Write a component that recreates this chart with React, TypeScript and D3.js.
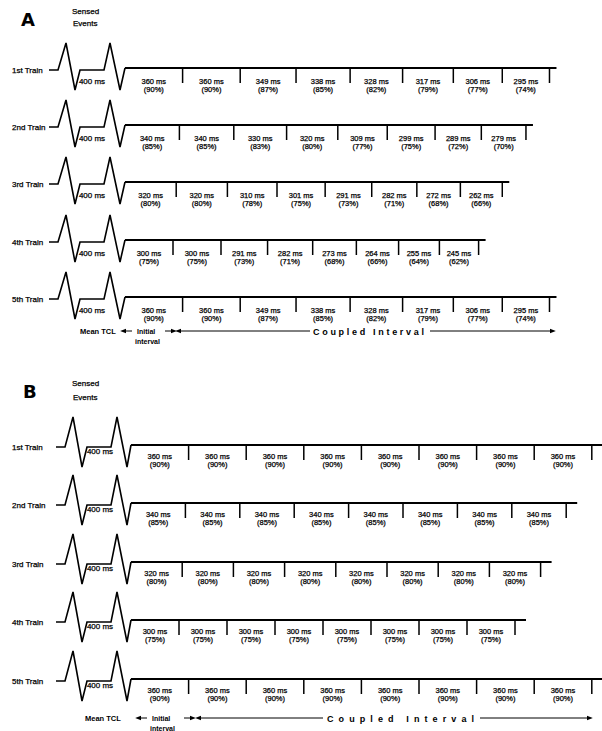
import React from 'react';
import * as d3 from 'd3';

// train names and the mean tachycardia cycle length
const trainLabels = ['1st Train', '2nd Train', '3rd Train', '4th Train', '5th Train'];
const meanTCL = 400;

// panel A: decremental coupled intervals (ms) and % of TCL
const intervalsA = [
  [360, 360, 349, 338, 328, 317, 306, 295],
  [340, 340, 330, 320, 309, 299, 289, 279],
  [320, 320, 310, 301, 291, 282, 272, 262],
  [300, 300, 291, 282, 273, 264, 255, 245],
  [360, 360, 349, 338, 328, 317, 306, 295],
];
const percentsA = [
  [90, 90, 87, 85, 82, 79, 77, 74],
  [85, 85, 83, 80, 77, 75, 72, 70],
  [80, 80, 78, 75, 73, 71, 68, 66],
  [75, 75, 73, 71, 68, 66, 64, 62],
  [90, 90, 87, 85, 82, 79, 77, 74],
];

// panel B: fixed coupled intervals
const intervalsB = [
  [360, 360, 360, 360, 360, 360, 360, 360],
  [340, 340, 340, 340, 340, 340, 340, 340],
  [320, 320, 320, 320, 320, 320, 320, 320],
  [300, 300, 300, 300, 300, 300, 300, 300],
  [360, 360, 360, 360, 360, 360, 360, 360],
];
const percentsB = [
  [90, 90, 90, 90, 90, 90, 90, 90],
  [85, 85, 85, 85, 85, 85, 85, 85],
  [80, 80, 80, 80, 80, 80, 80, 80],
  [75, 75, 75, 75, 75, 75, 75, 75],
  [90, 90, 90, 90, 90, 90, 90, 90],
];

const FONT = '"Liberation Sans", Arial, Helvetica, sans-serif';
const INK = '#000';

const line = d3.line();

// scanned look: text a touch heavier than regular
const txt = { fontFamily: FONT, fill: INK, stroke: INK, strokeWidth: 0.25 };

function Panel({ letter, layout, intervals, percents }) {
  const L = layout;
  // ms -> px along the train
  const x = d3.scaleLinear().domain([0, 3000]).range([L.x0, L.x0 + 480]);

  // two sensed complexes as a glyph, offsets from where the rise starts
  const wave = (base) => {
    const p = L.peak, t = L.trough, w = L.waveX;
    const pts = [
      [L.waveStart, 0], [w, 0], [w + 8, -p], [w + 17, t], [w + 22, 0],
      [w + 46, 0], [w + 52, -p], [w + 62, t], [L.x0, -2],
    ];
    return line(pts.map(([px, py]) => [px, base + py]));
  };

  return (
    <g>
      <text x={L.letterX} y={L.letterY} fontFamily='"DejaVu Sans", sans-serif'
        fontWeight="bold" fontSize={18} fill={INK}>{letter}</text>
      <text x={72} y={L.sensedY} {...txt} fontSize={8}>Sensed</text>
      <text x={73} y={L.sensedY + L.sensedGap} {...txt} fontSize={8}>Events</text>

      {trainLabels.map((lab, r) => {
        const base = L.rows[r];
        const ends = Array.from(d3.cumsum(intervals[r]));
        const starts = [0, ...ends.slice(0, -1)];
        const last = ends[ends.length - 1];
        return (
          <g key={lab}>
            <text x={12} y={base + 3} {...txt} fontSize={8}>{lab}</text>
            <path d={wave(base)} fill="none" stroke={INK} strokeWidth={1.6} strokeLinejoin="miter" />
            <text x={L.tclX} y={base + L.tclDy} textAnchor="middle" {...txt}
              fontSize={8}>{meanTCL} ms</text>
            <line x1={x(0)} x2={x(last) + L.ext} y1={base - 2} y2={base - 2}
              stroke={INK} strokeWidth={2} />
            {ends.map((e, i) => (
              <line key={'t' + i} x1={x(e)} x2={x(e)} y1={base - 2} y2={base + 13}
                stroke={INK} strokeWidth={1.5} />
            ))}
            {intervals[r].map((v, i) => {
              const cx = (x(starts[i]) + x(ends[i])) / 2;
              return (
                <g key={'l' + i}>
                  <text x={cx} y={base + L.msDy} textAnchor="middle" {...txt}
                    fontSize={7.5}>{v} ms</text>
                  <text x={cx} y={base + L.msDy + 8} textAnchor="middle" {...txt}
                    fontSize={7.5}>({percents[r][i]}%)</text>
                </g>
              );
            })}
          </g>
        );
      })}

      {/* legend row */}
      <g fontFamily={FONT} fill={INK} fontWeight="bold">
        <text x={L.foot.mean} y={L.footY + 3} fontSize={7.5}>Mean TCL</text>
        <line x1={L.foot.a1[1]} x2={L.foot.a1[0] + 3} y1={L.footY} y2={L.footY}
          stroke={INK} strokeWidth={1} markerEnd="url(#arrow)" />
        <text x={L.foot.init} y={L.footY + 3} fontSize={7}>Initial</text>
        <text x={L.foot.init - 2} y={L.footY + 13} fontSize={7}>interval</text>
        <line x1={L.foot.a2[0]} x2={L.foot.a2[1] - 3} y1={L.footY} y2={L.footY}
          stroke={INK} strokeWidth={1} markerEnd="url(#arrow)" />
        <line x1={L.foot.left[1]} x2={L.foot.left[0] + 3} y1={L.footY} y2={L.footY}
          stroke={INK} strokeWidth={1} markerEnd="url(#arrow)" />
        <text x={L.foot.text[0]} y={L.footY + 3.5} fontSize={9}
          textLength={L.foot.text[1] - L.foot.text[0]} lengthAdjust="spacing">Coupled Interval</text>
        <line x1={L.foot.right[0]} x2={L.foot.right[1] - 3} y1={L.footY} y2={L.footY}
          stroke={INK} strokeWidth={1} markerEnd="url(#arrow)" />
      </g>
    </g>
  );
}

const layoutA = {
  letterX: 21, letterY: 26, sensedY: 14, sensedGap: 12,
  rows: [70, 127, 184, 242, 299],
  waveStart: 49, waveX: 58, peak: 27, trough: 20, x0: 125, ext: 7,
  tclX: 92, tclDy: 14, msDy: 14,
  footY: 331,
  foot: { mean: 80, a1: [122, 132], init: 137, a2: [165, 175], left: [177, 310],
    text: [313, 424], right: [430, 554] },
};

const layoutB = {
  letterX: 23, letterY: 398, sensedY: 386, sensedGap: 14,
  rows: [447, 505, 564, 622, 681],
  waveStart: 56, waveX: 65, peak: 30, trough: 20, x0: 131, ext: 11,
  tclX: 100, tclDy: 7, msDy: 12,
  footY: 718,
  foot: { mean: 85, a1: [137, 147], init: 152, a2: [184, 194], left: [197, 323],
    text: [327, 474], right: [480, 591] },
};

export default function App() {
  return (
    <svg width={602} height={731} style={{ position: 'absolute', left: 0, top: 0, background: '#fff' }}>
      <defs>
        <marker id="arrow" viewBox="0 0 10 10" refX="2" refY="5" markerWidth="6" markerHeight="6"
          orient="auto" markerUnits="userSpaceOnUse">
          <path d="M0,1 L10,5 L0,9 Z" fill={INK} />
        </marker>
      </defs>
      <rect width={602} height={731} fill="#fff" />
      <Panel letter="A" layout={layoutA} intervals={intervalsA} percents={percentsA} />
      <Panel letter="B" layout={layoutB} intervals={intervalsB} percents={percentsB} />
    </svg>
  );
}
